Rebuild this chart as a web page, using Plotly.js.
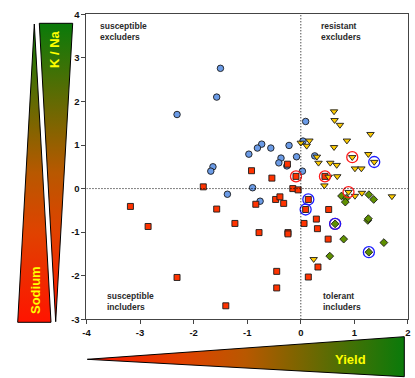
<!DOCTYPE html>
<html>
<head>
<meta charset="utf-8">
<script src="https://cdn.plot.ly/plotly-3.0.1.min.js"></script>
<style>html,body{margin:0;padding:0;background:#fff;}#chart{width:415px;height:378px;}</style>
</head>
<body>
<div id="chart"></div>
<script>
// ---- data ----
const blueX = [-1.50,-1.57,-2.31,0.09,0.04,-0.73,-0.81,-0.56,-0.22,-0.97,-0.37,-0.41,-0.08,0.26,-1.64,-1.68,-0.26,0.03,-0.90,-1.37,-0.76];
const blueY = [2.76,2.10,1.70,1.54,1.09,1.02,0.93,0.93,0.99,0.79,0.70,0.59,0.73,0.75,0.50,0.40,0.52,0.40,0.02,-0.13,-0.29];

const squareX = [-0.25,-0.92,-0.54,-0.09,0.45,-1.82,-0.15,-0.05,-3.18,-1.57,-0.84,-0.47,-0.39,-0.32,0.14,0.09,0.52,-2.85,-1.23,-0.78,-0.24,-0.24,0.06,0.29,0.31,0.51,0.32,0.14,-2.31,-0.45,-0.45,-1.40];
const squareY = [0.56,0.41,0.24,0.28,0.28,0.04,0.00,-0.03,-0.41,-0.47,-0.36,-0.25,-0.19,-0.34,-0.25,-0.48,-0.48,-0.87,-0.80,-1.01,-1.01,-1.04,-0.80,-0.70,-0.92,-1.16,-1.80,-2.03,-2.04,-1.90,-2.28,-2.69];

const triX = [0.62,0.63,0.73,1.30,0.86,0.16,0.00,0.11,0.62,1.26,0.96,1.37,0.30,0.33,0.55,0.67,1.01,1.13,0.52,0.68,0.44,0.89,1.01,1.14,1.70,0.24];
const triY = [1.77,1.57,1.46,1.25,1.10,1.10,1.05,0.98,0.95,0.79,0.72,0.61,0.73,0.59,0.59,0.54,0.46,0.46,0.27,0.28,0.07,-0.08,-0.17,-0.10,-0.18,-1.62];

const diamondX = [0.76,0.85,0.83,1.27,1.36,0.64,1.25,1.26,0.80,1.55,1.27,0.54];
const diamondY = [-0.17,-0.22,-0.31,-0.14,-0.25,-0.81,-0.73,-0.69,-1.16,-1.24,-1.46,-1.55];

const redRingX = [0.96,-0.09,0.45,0.89,0.64];
const redRingY = [0.72,0.28,0.28,-0.08,-0.81];
const blueRingX = [1.37,0.14,0.09,0.64,1.27];
const blueRingY = [0.61,-0.25,-0.48,-0.81,-1.46];

const xTicks = [-4,-3,-2,-1,0,1,2];
const yTicks = [-3,-2,-1,0,1,2,3,4];

const quadrantLabels = ["susceptible<br>excluders","resistant<br>excluders","susceptible<br>includers","tolerant<br>includers"];
const gaugeLabels = ["Sodium","K / Na","Yield"];

// ---- styling ----
const FONT = 'Liberation Sans, Arial, sans-serif';
const gradScale = [[0,'#ff1400'],[0.3,'#e04200'],[0.5,'#b85800'],[0.65,'#826400'],[0.85,'#3c7206'],[1,'#0a7a0a']];
const edge = '#1a1a1a';

function pts(x, y, symbol, color, size) {
  return {x:x, y:y, type:'scatter', mode:'markers', hoverinfo:'skip', cliponaxis:false,
    marker:{symbol:symbol, color:color, size:size, line:{color:edge, width:0.9}}};
}
function ring(x, y, color) {
  return {x:x, y:y, type:'scatter', mode:'markers', hoverinfo:'skip', cliponaxis:false,
    marker:{symbol:'circle-open', color:color, size:11, line:{color:color, width:1.3}}};
}
// decorative gauge triangles drawn on an overlay subplot in figure pixel units
function gauge(xs, ys, type, start, stop) {
  return {x:xs, y:ys, xaxis:'x2', yaxis:'y2', type:'scatter', mode:'lines', fill:'toself',
    hoverinfo:'skip', line:{color:'#000', width:1},
    fillgradient:{type:type, start:start, stop:stop, colorscale:gradScale}};
}

const data = [
  gauge([34.3,17.7,51,34.3],[24,322.3,322.3,24],'vertical',322.3,24),
  gauge([39.3,72.7,55.7,39.3],[23.3,23.3,321.7,23.3],'vertical',321.7,23.3),
  gauge([87.3,404.3,404.3,87.3],[359.3,336.7,376.7,359.3],'horizontal',87.3,404.3),
  pts(blueX, blueY, 'circle', '#6b9be6', 6.5),
  pts(squareX, squareY, 'square', '#ff3300', 6),
  pts(triX, triY, 'triangle-down', '#ffcc00', 6.5),
  pts(diamondX, diamondY, 'diamond', '#5f9000', 6),
  ring(redRingX, redRingY, '#ff1a1a'),
  ring(blueRingX, blueRingY, '#1a1aff')
];

const axisCommon = {
  ticks:'outside', ticklen:4, tickwidth:1, tickcolor:'#444',
  showline:true, linecolor:'#444', linewidth:1, mirror:true,
  showgrid:false, zeroline:false, fixedrange:true,
  tickfont:{family:FONT, size:9.5, weight:'bold', color:'#111'}
};

const quadFont = {family:FONT, size:8.5, weight:'bold', color:'#2a2a2a'};
const gaugeFont = {family:FONT, size:13, weight:'bold', color:'#ffff00'};

const layout = {
  width:415, height:378,
  margin:{l:0, r:0, t:0, b:0},
  paper_bgcolor:'#ffffff', plot_bgcolor:'rgba(0,0,0,0)',
  showlegend:false,
  xaxis:Object.assign({domain:[0.2084,0.9831], range:[-4,2], tickvals:xTicks, ticktext:xTicks.map(String), anchor:'y'}, axisCommon),
  yaxis:Object.assign({domain:[0.1553,0.9622], range:[-3,4], tickvals:yTicks, ticktext:yTicks.map(String), anchor:'x'}, axisCommon),
  xaxis2:{domain:[0,1], range:[0,415], visible:false, anchor:'y2', fixedrange:true},
  yaxis2:{domain:[0,1], range:[378,0], visible:false, anchor:'x2', fixedrange:true},
  shapes:[
    {type:'line', xref:'x', yref:'y', x0:0, x1:0, y0:-3, y1:4, line:{color:'#000', width:1, dash:'1px,2px'}},
    {type:'line', xref:'x', yref:'y', x0:-4, x1:2, y0:0, y1:0, line:{color:'#000', width:1, dash:'1px,2px'}}
  ],
  annotations:[
    {xref:'x2', yref:'y2', x:98, y:31, xanchor:'left', yanchor:'middle', align:'left', showarrow:false, text:quadrantLabels[0], font:quadFont},
    {xref:'x2', yref:'y2', x:318.7, y:31, xanchor:'left', yanchor:'middle', align:'left', showarrow:false, text:quadrantLabels[1], font:quadFont},
    {xref:'x2', yref:'y2', x:104.7, y:301, xanchor:'left', yanchor:'middle', align:'left', showarrow:false, text:quadrantLabels[2], font:quadFont},
    {xref:'x2', yref:'y2', x:320.7, y:301, xanchor:'left', yanchor:'middle', align:'left', showarrow:false, text:quadrantLabels[3], font:quadFont},
    {xref:'x2', yref:'y2', x:35, y:290, textangle:-90, showarrow:false, text:gaugeLabels[0], font:gaugeFont},
    {xref:'x2', yref:'y2', x:54.5, y:49.5, textangle:-90, showarrow:false, text:gaugeLabels[1], font:gaugeFont},
    {xref:'x2', yref:'y2', x:350.3, y:359, showarrow:false, text:gaugeLabels[2], font:gaugeFont}
  ]
};

Plotly.newPlot('chart', data, layout, {staticPlot:true, displayModeBar:false});
</script>
</body>
</html>
